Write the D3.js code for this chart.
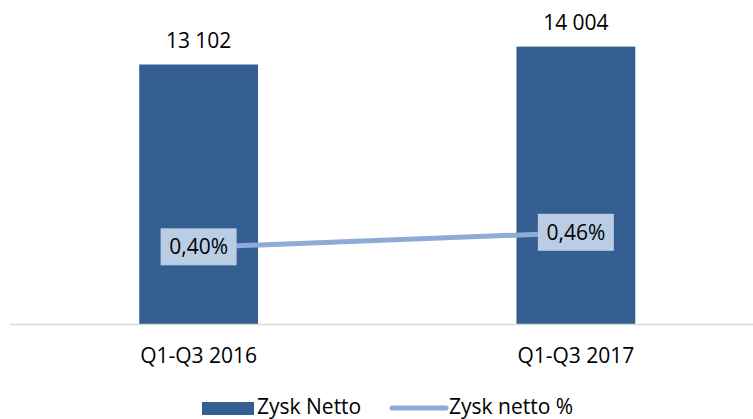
<!DOCTYPE html>
<html>
<head>
<meta charset="utf-8">
<script src="https://cdn.jsdelivr.net/npm/d3@7"></script>
<style>
  body { margin: 0; background: #fff; }
  text { font-family: "Open Sans", sans-serif; fill: #000; }
</style>
</head>
<body>
<svg id="chart" width="753" height="419"></svg>
<script>
const categories = ['Q1-Q3 2016', 'Q1-Q3 2017'];
const zyskNetto = [13102, 14004];
const zyskNettoPct = [0.40, 0.46];
const legendLabels = ['Zysk Netto', 'Zysk netto %'];

const barColor = '#365f91';
const lineColor = '#8eaad6';
const boxColor = '#b9cde5';

const svg = d3.select('#chart');

// main scales
const x = d3.scaleBand().domain(categories).range([10, 764.5]).padding(0);
const y = d3.scaleLinear().domain([0, 16000]).range([324.5, 7]);
const y2 = d3.scaleLinear().domain([0, 1.4]).range([344, 5.6]);
const barW = x.bandwidth() * 0.315;

const fmtNum = d => d3.format(',')(d).replace(/,/g, ' ');
const fmtPct = d => d.toFixed(2).replace('.', ',') + '%';

// bars
svg.selectAll('rect.bar')
  .data(zyskNetto)
  .enter()
  .append('rect')
  .attr('class', 'bar')
  .attr('x', (d, i) => x(categories[i]) + x.bandwidth() / 2 - barW / 2)
  .attr('y', d => y(d))
  .attr('width', barW)
  .attr('height', d => y(0) - y(d))
  .attr('fill', barColor);

// bar labels
svg.selectAll('text.barlab')
  .data(zyskNetto)
  .enter()
  .append('text')
  .attr('class', 'barlab')
  .attr('x', (d, i) => x(categories[i]) + x.bandwidth() / 2)
  .attr('y', d => y(d) - 17)
  .attr('text-anchor', 'middle')
  .style('font-size', '21px')
  .text(fmtNum);

// category axis
svg.append('line')
  .attr('x1', 10).attr('x2', 753)
  .attr('y1', y(0)).attr('y2', y(0))
  .attr('stroke', '#d9d9d9').attr('stroke-width', 1.5);

svg.selectAll('text.cat')
  .data(categories)
  .enter()
  .append('text')
  .attr('class', 'cat')
  .attr('x', d => x(d) + x.bandwidth() / 2)
  .attr('y', 363)
  .attr('text-anchor', 'middle')
  .style('font-size', '21px')
  .text(d => d);

// percentage line
const line = d3.line()
  .x((d, i) => x(categories[i]) + x.bandwidth() / 2)
  .y(d => y2(d));

svg.append('path')
  .datum(zyskNettoPct)
  .attr('d', line)
  .attr('fill', 'none')
  .attr('stroke', lineColor)
  .attr('stroke-width', 5);

// percentage labels in boxes
const pctLab = svg.selectAll('g.pctlab')
  .data(zyskNettoPct)
  .enter()
  .append('g')
  .attr('class', 'pctlab')
  .attr('transform', (d, i) => `translate(${x(categories[i]) + x.bandwidth() / 2},${y2(d)})`);

pctLab.append('rect')
  .attr('x', -38).attr('y', -19)
  .attr('width', 76).attr('height', 37)
  .attr('fill', boxColor);

pctLab.append('text')
  .attr('text-anchor', 'middle')
  .attr('y', 7)
  .style('font-size', '21px')
  .text(fmtPct);

// legend
const legend = svg.append('g');
legend.append('rect')
  .attr('x', 202).attr('y', 402)
  .attr('width', 52).attr('height', 13)
  .attr('fill', barColor);
legend.append('text')
  .attr('x', 257).attr('y', 413.5)
  .style('font-size', '21px')
  .text(legendLabels[0]);
legend.append('line')
  .attr('x1', 392).attr('x2', 446)
  .attr('y1', 408).attr('y2', 408)
  .attr('stroke', lineColor)
  .attr('stroke-width', 5)
  .attr('stroke-linecap', 'round');
legend.append('text')
  .attr('x', 449).attr('y', 413.5)
  .style('font-size', '21px')
  .text(legendLabels[1]);
</script>
</body>
</html>
